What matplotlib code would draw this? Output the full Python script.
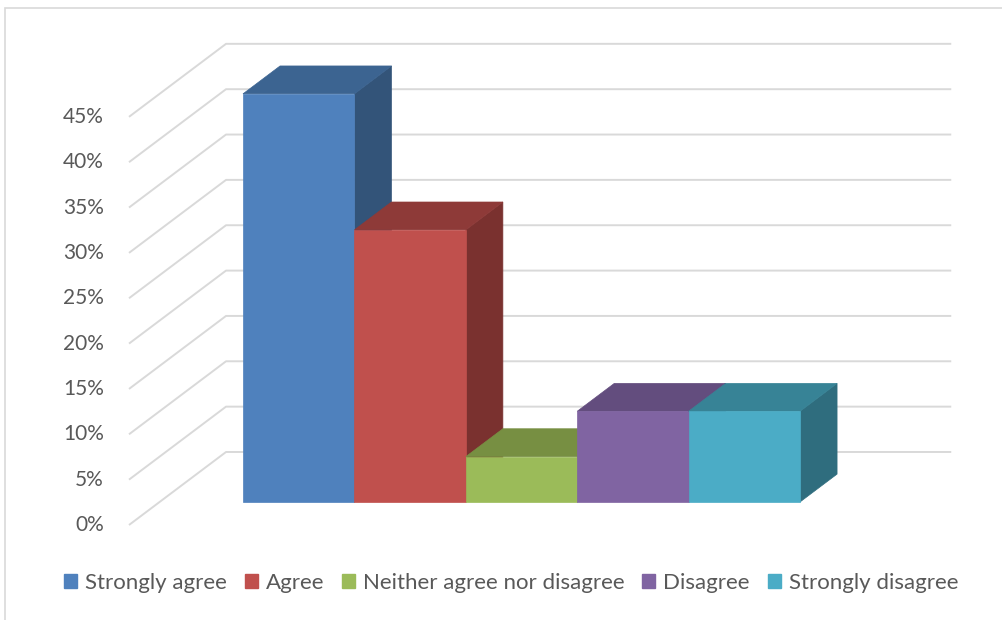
import matplotlib
matplotlib.use("Agg")
import matplotlib.pyplot as plt
from matplotlib.patches import Polygon, Patch, Rectangle

# Survey responses (share of respondents, %)
categories = ["Strongly agree", "Agree", "Neither agree nor disagree",
              "Disagree", "Strongly disagree"]
values = [45, 30, 5, 10, 10]
tick_values = [0, 5, 10, 15, 20, 25, 30, 35, 40, 45]
tick_labels = ["0%", "5%", "10%", "15%", "20%", "25%", "30%", "35%", "40%", "45%"]

front_colors = ["#4F81BD", "#C0504D", "#9BBB59", "#8064A2", "#4BACC6"]
top_colors = ["#3C6491", "#8E3A38", "#778F42", "#634D7E", "#378396"]
side_colors = ["#335479", "#7A312F", "#667A38", "#54416B", "#2F6D7E"]

plt.rcParams["font.family"] = ["Lato", "DejaVu Sans"]
text_color = "#595959"
grid_color = "#D9D9D9"

W, H, DPI = 1003, 620, 100
fig = plt.figure(figsize=(W / DPI, H / DPI), dpi=DPI)
ax = fig.add_axes([0, 0, 1, 1])

# axis scale: one x unit = one bar width, y in percent
px_x, px_y = 111.4, 9.07
origin_x, origin_y = 129, 525
ax.set_xlim(-origin_x / px_x, (W - origin_x) / px_x)
ax.set_ylim((origin_y - H) / px_y, origin_y / px_y)
ax.set_axis_off()

# oblique projection of depth (0 = front of floor, 1 = back wall)
kx, ky = 0.871, 8.05
floor_width = 6.51
bar_x0 = 0.749
d0, d1 = 0.315, 0.697


def proj(x, y, d):
    return (x + kx * d, y + ky * d)


# side wall and back wall gridlines with their value labels
for v, lab in zip(tick_values, tick_labels):
    pts = [proj(0, v, 0), proj(0, v, 1), proj(floor_width, v, 1)]
    ax.plot([p[0] for p in pts], [p[1] for p in pts], color=grid_color,
            lw=1.4, zorder=1, solid_capstyle="butt")
    ax.text(-0.225, v, lab, ha="right", va="center", fontsize=15,
            color=text_color)

# 3D columns, drawn left to right so later faces overlap earlier sides
for i, (v, fc, tc, sc) in enumerate(zip(values, front_colors, top_colors, side_colors)):
    xl, xr = bar_x0 + i, bar_x0 + i + 1
    front = [proj(xl, 0, d0), proj(xr, 0, d0), proj(xr, v, d0), proj(xl, v, d0)]
    top = [proj(xl, v, d0), proj(xr, v, d0), proj(xr, v, d1), proj(xl, v, d1)]
    side = [proj(xr, 0, d0), proj(xr, 0, d1), proj(xr, v, d1), proj(xr, v, d0)]
    z = 2 + i
    ax.add_patch(Polygon(side, closed=True, facecolor=sc, edgecolor=sc, lw=0.5, zorder=z))
    ax.add_patch(Polygon(top, closed=True, facecolor=tc, edgecolor=tc, lw=0.5, zorder=z))
    ax.add_patch(Polygon(front, closed=True, facecolor=fc, edgecolor=fc, lw=0.5, zorder=z))

# chart area frame
fig.add_artist(Rectangle((5 / W, -0.1), 1.2, (H - 8) / H + 0.1,
                         transform=fig.transFigure, fill=False,
                         edgecolor=grid_color, lw=1.2))

handles = [Patch(facecolor=c, edgecolor=c) for c in front_colors]
fig.legend(handles, categories, loc="center", bbox_to_anchor=(511 / W, 1 - 583 / H),
           ncol=5, frameon=False, fontsize=16, labelcolor=text_color,
           handlelength=0.585, handleheight=0.585, handletextpad=0.36,
           columnspacing=0.8, borderpad=0, borderaxespad=0)

fig.savefig("out.png", dpi=DPI)
